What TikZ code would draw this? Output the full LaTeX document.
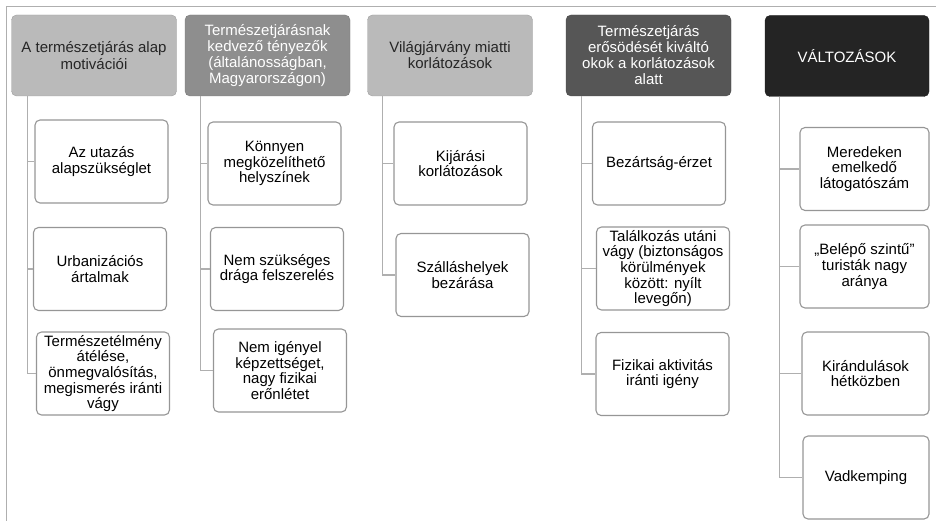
\documentclass[tikz,border=0pt]{standalone}
\usepackage{fontspec}
\setmainfont{Liberation Sans}
\usepackage{tikz}
\usetikzlibrary{positioning}

\definecolor{headA}{RGB}{186,186,186}
\definecolor{headB}{RGB}{142,142,142}
\definecolor{headC}{RGB}{86,86,86}
\definecolor{headD}{RGB}{36,36,36}
\definecolor{boxgray}{RGB}{150,150,150}
\definecolor{linegray}{RGB}{175,175,175}

\begin{document}
\begin{tikzpicture}[x=1pt, y=-1pt,
  head/.style={draw=#1!85!black, fill=#1, rounded corners=5pt, minimum width=165pt, minimum height=81pt,
    align=center, inner sep=2pt, font=\fontsize{15}{16}\selectfont},
  child/.style={draw=boxgray, line width=1.1pt, fill=white, rounded corners=5pt, minimum width=133pt,
    minimum height=83pt, align=center, inner sep=1pt, font=\fontsize{15}{15.6}\selectfont},
  branch/.style={draw=linegray, line width=1.3pt}]

	\useasboundingbox (0,0) rectangle (936,521);
	\draw[linegray, line width=1pt] (6,521) -- (6,7) -- (936,7);

	% headers
	\node[head=headA, text=black!85] (h1) at (94,55.5) {A természetjárás alap\\[1.5pt]motivációi};
	\node[head=headB, text=white] (h2) at (267.5,55.5) {Természetjárásnak\\kedvező tényezők\\(általánosságban,\\Magyarországon)};
	\node[head=headA, text=black!85] (h3) at (450,55.5) {Világjárvány miatti\\korlátozások};
	\node[head=headC, text=white] (h4) at (648.5,55.5) {Természetjárás\\erősödését kiváltó\\okok a korlátozások\\alatt};
	\node[head=headD, text=white, minimum width=164pt] (h5) at (847,56) {VÁLTOZÁSOK};

	% first column
	\node[child] (c11) at (101.5,161.5) {Az utazás\\alapszükséglet};
	\node[child] (c12) at (100,269) {Urbanizációs\\ártalmak};
	\node[child] (c13) at (103,373.5) {Természetélmény\\átélése,\\önmegvalósítás,\\megismerés iránti\\vágy};

	% second column
	\node[child] (c21) at (274.5,163.5) {Könnyen\\megközelíthető\\helyszínek};
	\node[child] (c22) at (277,269) {Nem szükséges\\drága felszerelés};
	\node[child] (c23) at (280,370.5) {Nem igényel\\képzettséget,\\nagy fizikai\\erőnlétet};

	% third column
	\node[child] (c31) at (460.5,163.5) {Kijárási\\korlátozások};
	\node[child] (c32) at (462.5,275) {Szálláshelyek\\bezárása};

	% fourth column
	\node[child] (c41) at (659,163.5) {Bezártság-érzet};
	\node[child] (c42) at (663,268.5) {Találkozás utáni\\vágy (biztonságos\\körülmények\\között: nyílt\\levegőn)};
	\node[child] (c43) at (662.5,374) {Fizikai aktivitás\\iránti igény};

	% fifth column
	\node[child, minimum width=129pt] (c51) at (864.5,169) {Meredeken\\emelkedő\\látogatószám};
	\node[child, minimum width=129pt] (c52) at (864.5,266.5) {„Belépő szintű”\\turisták nagy\\aránya};
	\node[child, minimum width=127pt] (c53) at (865.5,373.5) {Kirándulások\\hétközben};
	\node[child, minimum width=126pt] (c54) at (866,477.5) {Vadkemping};

	\foreach \c in {c11,c12,c13}
		\draw[branch] ([xshift=16pt]h1.south west) |- (\c.west);
	\foreach \c in {c21,c22,c23}
		\draw[branch] ([xshift=16pt]h2.south west) |- (\c.west);
	\foreach \c in {c31,c32}
		\draw[branch] ([xshift=15pt]h3.south west) |- (\c.west);
	\foreach \c in {c41,c42,c43}
		\draw[branch] ([xshift=16pt]h4.south west) |- (\c.west);
	\foreach \c in {c51,c52,c53,c54}
		\draw[branch] ([xshift=15pt]h5.south west) |- (\c.west);

\end{tikzpicture}
\end{document}
